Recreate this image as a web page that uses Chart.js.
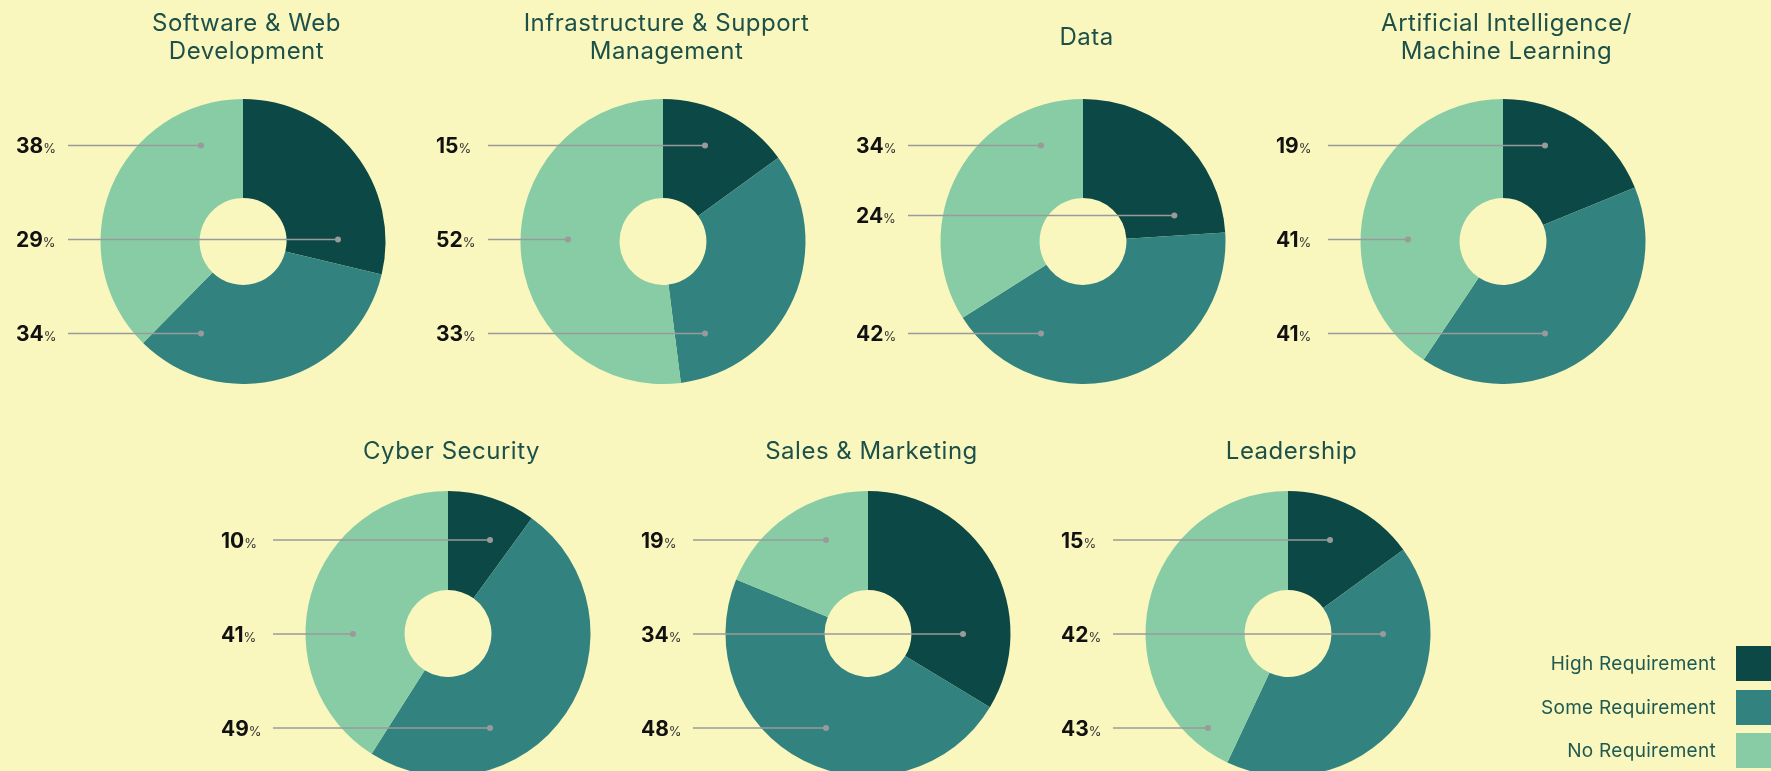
<!DOCTYPE html>
<html>
<head>
<meta charset="utf-8">
<script src="https://cdn.jsdelivr.net/npm/chart.js@4.4.0/dist/chart.umd.min.js"></script>
<style>
  html, body { margin: 0; padding: 0; background: #f9f6be; overflow: hidden; }
  #board { position: relative; width: 1771px; height: 771px; overflow: hidden; }
  #board canvas { position: absolute; }
  .legend-row { position: absolute; left: 1416px; width: 360px; height: 35px; display: flex; align-items: center; }
  .legend-row span { width: 300px; text-align: right; font: 19px Inter, sans-serif; letter-spacing: 0.3px; color: #1f5a52; }
  .legend-row i { display: block; margin-left: 20px; width: 40px; height: 35px; }
</style>
</head>
<body>
<div id="board"></div>
<script>
// segments shown in every donut
const segments = ["High Requirement", "Some Requirement", "No Requirement"];
const segmentColors = ["#0c4846", "#32827f", "#87cca5"];

// one entry per donut
const titles = [
  ["Software & Web", "Development"],
  ["Infrastructure & Support", "Management"],
  ["Data"],
  ["Artificial Intelligence/", "Machine Learning"],
  ["Cyber Security"],
  ["Sales & Marketing"],
  ["Leadership"]
];
const highReq = [29, 15, 24, 19, 10, 34, 15];
const someReq = [34, 33, 42, 41, 49, 48, 42];
const noReq   = [38, 52, 34, 41, 41, 19, 43];

// which segment each % label (top to bottom) refers to
const labelOrder = [
  [2, 0, 1],
  [0, 2, 1],
  [2, 0, 1],
  [0, 2, 1],
  [0, 2, 1],
  [2, 0, 1],
  [0, 1, 2]
];

// layout of the grid: 4 donuts on top, 3 below
const slots = [
  { left: 3,    top: 0,   height: 384, padTop: 99, titleMid: 36.5, rowShift: -1 },
  { left: 423,  top: 0,   height: 384, padTop: 99, titleMid: 36.5, rowShift: -1 },
  { left: 843,  top: 0,   height: 384, padTop: 99, titleMid: 36.5, rowShift: -1 },
  { left: 1263, top: 0,   height: 384, padTop: 99, titleMid: 36.5, rowShift: -1 },
  { left: 208,  top: 400, height: 376, padTop: 91, titleMid: 50.5, rowShift: 1.5 },
  { left: 628,  top: 400, height: 376, padTop: 91, titleMid: 50.5, rowShift: 1.5 },
  { left: 1048, top: 400, height: 376, padTop: 91, titleMid: 50.5, rowShift: 1.5 }
];

const rowOffsets = [-95, -1, 93];

// is point inside the arc, with some angular margin
function insideArc(arc, px, py, margin) {
  const p = arc.getProps(["x", "y", "startAngle", "endAngle", "innerRadius", "outerRadius"]);
  const r = Math.hypot(px - p.x, py - p.y);
  if (r < p.innerRadius + 6 || r > p.outerRadius - 6) return false;
  let a = Math.atan2(py - p.y, px - p.x);
  while (a < p.startAngle) a += Math.PI * 2;
  while (a > p.startAngle + Math.PI * 2) a -= Math.PI * 2;
  return a >= p.startAngle + margin && a <= p.endAngle - margin;
}

function findDot(arc, cx, cy, dy0) {
  const shifts = [0, -8, 8, -16, 16, -24, 24, -32, 32, -40, 40];
  for (const s of shifts) {
    const dy = dy0 + s;
    const base = Math.max(42, Math.sqrt(Math.max(95 * 95 - dy * dy, 0)));
    for (const mag of [base, 80]) {
      for (const sign of [-1, 1]) {
        const x = cx + sign * mag, y = cy + dy;
        if (insideArc(arc, x, y, 0.175)) return { x, y };
      }
    }
  }
  return { x: cx, y: cy + dy0 };
}

function labelPlugin(idx, slot) {
  return {
    id: "donutLabels",
    afterDatasetsDraw(chart) {
      const ctx = chart.ctx;
      const area = chart.chartArea;
      const cx = (area.left + area.right) / 2;
      const cy = (area.top + area.bottom) / 2;
      const meta = chart.getDatasetMeta(0);
      const values = chart.data.datasets[0].data;

      ctx.save();
      // title
      const lines = titles[idx];
      ctx.font = "400 24px Inter, sans-serif";
      ctx.letterSpacing = "0.5px";
      ctx.fillStyle = "#1d5049";
      ctx.textAlign = "center";
      ctx.textBaseline = "alphabetic";
      const first = slot.titleMid - (lines.length - 1) * 28.6 / 2 + 8.6;
      lines.forEach((t, k) => ctx.fillText(t, cx + 3.5, first + k * 28.6));
      ctx.letterSpacing = "0px";

      // % labels with leader lines
      labelOrder[idx].forEach((seg, row) => {
        const dot = findDot(meta.data[seg], cx, cy, rowOffsets[row] + slot.rowShift);
        const y = dot.y;
        ctx.strokeStyle = "#9a9a9a";
        ctx.lineWidth = 1.5;
        ctx.beginPath();
        ctx.moveTo(cx - 175, y);
        ctx.lineTo(dot.x, y);
        ctx.stroke();
        ctx.fillStyle = "#9a9a9a";
        ctx.beginPath();
        ctx.arc(dot.x, y, 3, 0, Math.PI * 2);
        ctx.fill();

        ctx.textAlign = "left";
        ctx.font = "700 21px Inter, sans-serif";
        ctx.fillStyle = "#111";
        const num = String(values[seg]);
        ctx.fillText(num, cx - 227, y + 7.5);
        const w = ctx.measureText(num).width;
        ctx.font = "400 13px Inter, sans-serif";
        ctx.fillStyle = "#333";
        ctx.fillText("%", cx - 227 + w, y + 7.5);
      });
      ctx.restore();
    }
  };
}

const board = document.getElementById("board");

titles.forEach((t, i) => {
  const slot = slots[i];
  const canvas = document.createElement("canvas");
  canvas.width = 420;
  canvas.height = slot.height;
  canvas.style.left = slot.left + "px";
  canvas.style.top = slot.top + "px";
  board.appendChild(canvas);

  new Chart(canvas.getContext("2d"), {
    type: "doughnut",
    data: {
      labels: segments,
      datasets: [{
        data: [highReq[i], someReq[i], noReq[i]],
        backgroundColor: segmentColors,
        borderWidth: 0,
        hoverOffset: 0
      }]
    },
    options: {
      responsive: false,
      animation: false,
      events: [],
      cutout: "30.5%",
      layout: { padding: { left: 60, right: 0, top: slot.padTop, bottom: 0 } },
      plugins: {
        legend: { display: false },
        title: { display: false },
        tooltip: { enabled: false }
      }
    },
    plugins: [labelPlugin(i, slot)]
  });
});

// legend on the bottom right
segments.forEach((name, k) => {
  const row = document.createElement("div");
  row.className = "legend-row";
  row.style.top = [646, 690, 733][k] + "px";
  const label = document.createElement("span");
  label.textContent = name;
  const box = document.createElement("i");
  box.style.background = segmentColors[k];
  row.appendChild(label);
  row.appendChild(box);
  board.appendChild(row);
});
</script>
</body>
</html>
